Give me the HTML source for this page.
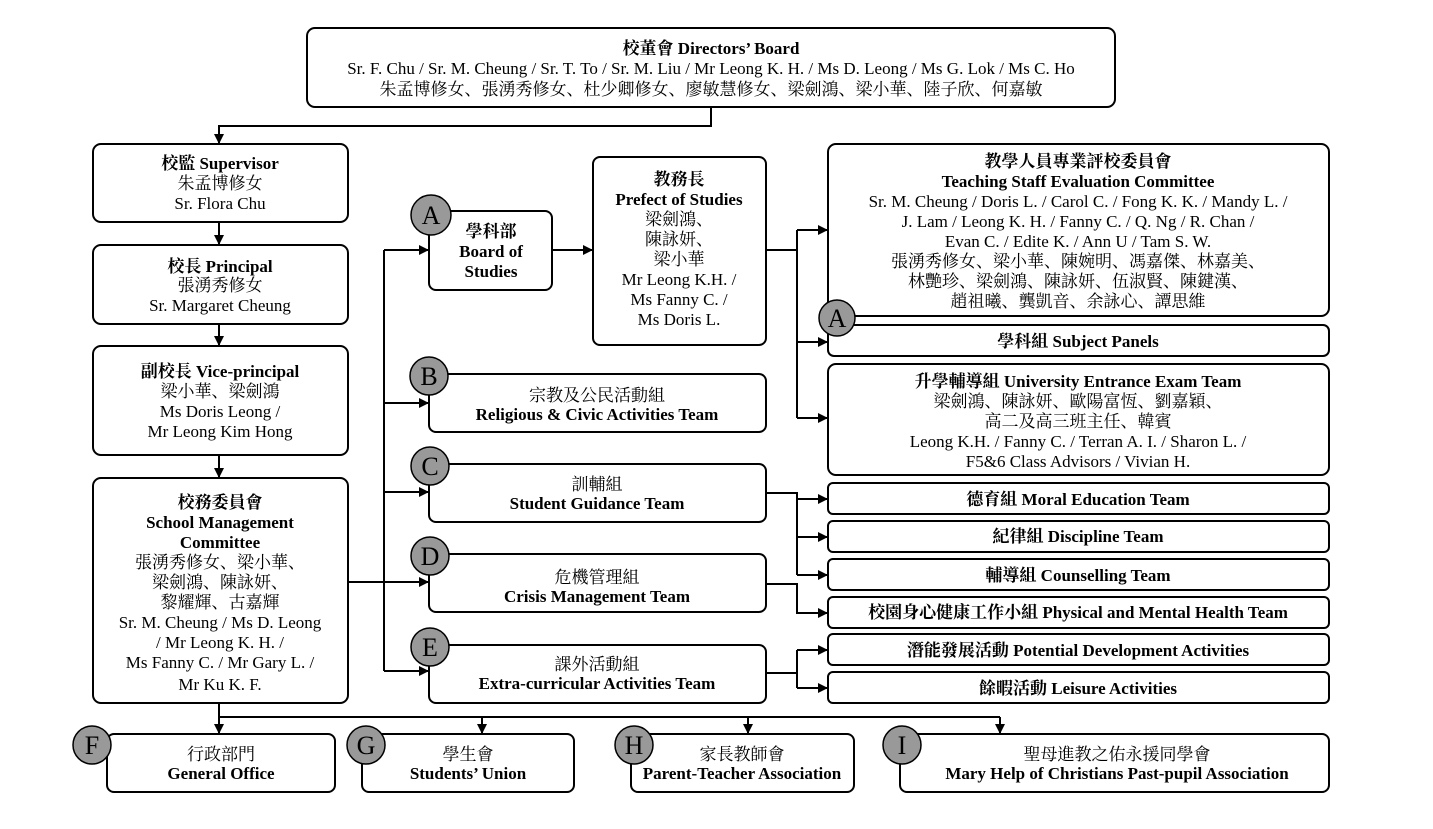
<!DOCTYPE html>
<html><head><meta charset="utf-8"><style>
html,body{margin:0;padding:0;background:#fff;}
svg{display:block;}
text{font-family:"Liberation Serif","Noto Serif CJK SC",serif;font-size:17px;fill:#000;text-anchor:middle;}
.b{font-weight:bold;}
.c{font-size:26px;}
rect.n{fill:#fff;stroke:#000;stroke-width:2;}
circle{fill:#999;stroke:#000;stroke-width:1.5;}
line,polyline{stroke:#000;stroke-width:2;fill:none;}
</style></head><body>
<svg width="1433" height="829" viewBox="0 0 1433 829" xmlns="http://www.w3.org/2000/svg">
<defs><marker id="a" markerWidth="10" markerHeight="10" refX="9" refY="5" orient="auto" markerUnits="userSpaceOnUse"><path d="M0,0 L10,5 L0,10 z" fill="#000"/></marker></defs>

<polyline points="711,107 711,126 219,126 219,143" marker-end="url(#a)"/>
<line x1="219" y1="222" x2="219" y2="244" marker-end="url(#a)"/>
<line x1="219" y1="324" x2="219" y2="345" marker-end="url(#a)"/>
<line x1="219" y1="455" x2="219" y2="477" marker-end="url(#a)"/>
<line x1="348" y1="582" x2="384" y2="582"/>
<line x1="384" y1="250" x2="384" y2="671"/>
<line x1="384" y1="250" x2="428" y2="250" marker-end="url(#a)"/>
<line x1="384" y1="403" x2="428" y2="403" marker-end="url(#a)"/>
<line x1="384" y1="492" x2="428" y2="492" marker-end="url(#a)"/>
<line x1="384" y1="582" x2="428" y2="582" marker-end="url(#a)"/>
<line x1="384" y1="671" x2="428" y2="671" marker-end="url(#a)"/>
<line x1="552" y1="250" x2="592" y2="250" marker-end="url(#a)"/>
<line x1="766" y1="250" x2="797" y2="250"/>
<line x1="797" y1="230" x2="797" y2="418"/>
<line x1="797" y1="230" x2="827" y2="230" marker-end="url(#a)"/>
<line x1="797" y1="342" x2="827" y2="342" marker-end="url(#a)"/>
<line x1="797" y1="418" x2="827" y2="418" marker-end="url(#a)"/>
<polyline points="766,493 797,493 797,575"/>
<line x1="797" y1="499" x2="827" y2="499" marker-end="url(#a)"/>
<line x1="797" y1="537" x2="827" y2="537" marker-end="url(#a)"/>
<line x1="797" y1="575" x2="827" y2="575" marker-end="url(#a)"/>
<polyline points="766,584 797,584 797,613 827,613" marker-end="url(#a)"/>
<line x1="766" y1="673" x2="797" y2="673"/>
<line x1="797" y1="650" x2="797" y2="688"/>
<line x1="797" y1="650" x2="827" y2="650" marker-end="url(#a)"/>
<line x1="797" y1="688" x2="827" y2="688" marker-end="url(#a)"/>
<line x1="219" y1="703" x2="219" y2="733" marker-end="url(#a)"/>
<line x1="219" y1="717" x2="1000" y2="717"/>
<line x1="482" y1="717" x2="482" y2="733" marker-end="url(#a)"/>
<line x1="748" y1="717" x2="748" y2="733" marker-end="url(#a)"/>
<line x1="1000" y1="717" x2="1000" y2="733" marker-end="url(#a)"/>

<rect class="n" x="307" y="28" width="808" height="79" rx="8"/>
<text class="b" x="711" y="54">校董會 Directors’ Board</text>
<text x="711" y="74">Sr. F. Chu / Sr. M. Cheung / Sr. T. To / Sr. M. Liu / Mr Leong K. H. / Ms D. Leong / Ms G. Lok / Ms C. Ho</text>
<text x="711" y="95">朱孟博修女、張湧秀修女、杜少卿修女、廖敏慧修女、梁劍鴻、梁小華、陸子欣、何嘉敏</text>

<rect class="n" x="93" y="144" width="255" height="78" rx="8"/>
<text class="b" x="220" y="169">校監 Supervisor</text>
<text x="220" y="189">朱孟博修女</text>
<text x="220" y="209">Sr. Flora Chu</text>

<rect class="n" x="93" y="245" width="255" height="79" rx="8"/>
<text class="b" x="220" y="272">校長 Principal</text>
<text x="220" y="291">張湧秀修女</text>
<text x="220" y="311">Sr.  Margaret Cheung</text>

<rect class="n" x="93" y="346" width="255" height="109" rx="8"/>
<text class="b" x="220" y="377">副校長 Vice-principal</text>
<text x="220" y="397">梁小華、梁劍鴻</text>
<text x="220" y="417">Ms Doris Leong /</text>
<text x="220" y="437">Mr Leong Kim Hong</text>

<rect class="n" x="93" y="478" width="255" height="225" rx="8"/>
<text class="b" x="220" y="508">校務委員會</text>
<text class="b" x="220" y="528">School Management</text>
<text class="b" x="220" y="548">Committee</text>
<text x="220" y="568">張湧秀修女、梁小華、</text>
<text x="220" y="588">梁劍鴻、陳詠妍、</text>
<text x="220" y="608">黎耀輝、古嘉輝</text>
<text x="220" y="628">Sr. M. Cheung / Ms D. Leong</text>
<text x="220" y="648">/ Mr Leong K. H. /</text>
<text x="220" y="668">Ms Fanny C. / Mr Gary L. /</text>
<text x="220" y="690">Mr Ku K. F.</text>

<rect class="n" x="429" y="211" width="123" height="79" rx="7"/>
<text class="b" x="491" y="237">學科部</text>
<text class="b" x="491" y="257">Board of</text>
<text class="b" x="491" y="277">Studies</text>

<rect class="n" x="593" y="157" width="173" height="188" rx="7"/>
<text class="b" x="679" y="185">教務長</text>
<text class="b" x="679" y="205">Prefect of Studies</text>
<text x="679" y="225">梁劍鴻、</text>
<text x="679" y="245">陳詠妍、</text>
<text x="679" y="265">梁小華</text>
<text x="679" y="285">Mr Leong K.H. /</text>
<text x="679" y="305">Ms Fanny C. /</text>
<text x="679" y="325">Ms Doris L.</text>

<rect class="n" x="828" y="144" width="501" height="172" rx="8"/>
<text class="b" x="1078" y="167">教學人員專業評校委員會</text>
<text class="b" x="1078" y="187">Teaching Staff Evaluation Committee</text>
<text x="1078" y="207">Sr. M. Cheung / Doris L. / Carol C. / Fong K. K. / Mandy L. /</text>
<text x="1078" y="227">J. Lam / Leong K. H. / Fanny C. / Q. Ng / R. Chan /</text>
<text x="1078" y="247">Evan C. / Edite K. / Ann U / Tam S. W.</text>
<text x="1078" y="267">張湧秀修女、梁小華、陳婉明、馮嘉傑、林嘉美、</text>
<text x="1078" y="287">林艷珍、梁劍鴻、陳詠妍、伍淑賢、陳鍵漢、</text>
<text x="1078" y="307">趙祖曦、龔凱音、余詠心、譚思維</text>

<rect class="n" x="828" y="325" width="501" height="31" rx="6"/>
<text class="b" x="1078" y="347">學科組 Subject Panels</text>

<rect class="n" x="828" y="364" width="501" height="111" rx="8"/>
<text class="b" x="1078" y="387">升學輔導組 University Entrance Exam Team</text>
<text x="1078" y="407">梁劍鴻、陳詠妍、歐陽富恆、劉嘉穎、</text>
<text x="1078" y="427">高二及高三班主任、韓賓</text>
<text x="1078" y="447">Leong K.H. / Fanny C. / Terran A. I. / Sharon L. /</text>
<text x="1078" y="467">F5&amp;6 Class Advisors / Vivian H.</text>

<rect class="n" x="429" y="374" width="337" height="58" rx="7"/>
<text x="597" y="401">宗教及公民活動組</text>
<text class="b" x="597" y="420">Religious &amp; Civic Activities Team</text>
<rect class="n" x="429" y="464" width="337" height="58" rx="7"/>
<text x="597" y="490">訓輔組</text>
<text class="b" x="597" y="509">Student Guidance Team</text>
<rect class="n" x="429" y="554" width="337" height="58" rx="7"/>
<text x="597" y="583">危機管理組</text>
<text class="b" x="597" y="602">Crisis Management Team</text>
<rect class="n" x="429" y="645" width="337" height="58" rx="7"/>
<text x="597" y="670">課外活動組</text>
<text class="b" x="597" y="689">Extra-curricular Activities Team</text>

<rect class="n" x="828" y="483" width="501" height="31" rx="5"/>
<text class="b" x="1078" y="505">德育組 Moral Education Team</text>
<rect class="n" x="828" y="521" width="501" height="31" rx="5"/>
<text class="b" x="1078" y="542">紀律組 Discipline Team</text>
<rect class="n" x="828" y="559" width="501" height="31" rx="5"/>
<text class="b" x="1078" y="581">輔導組 Counselling Team</text>
<rect class="n" x="828" y="597" width="501" height="31" rx="5"/>
<text class="b" x="1078" y="618">校園身心健康工作小組 Physical and Mental Health Team</text>
<rect class="n" x="828" y="634" width="501" height="31" rx="5"/>
<text class="b" x="1078" y="656">潛能發展活動 Potential Development Activities</text>
<rect class="n" x="828" y="672" width="501" height="31" rx="5"/>
<text class="b" x="1078" y="694">餘暇活動 Leisure Activities</text>

<rect class="n" x="107" y="734" width="228" height="58" rx="7"/>
<text x="221" y="760">行政部門</text>
<text class="b" x="221" y="779">General Office</text>
<rect class="n" x="362" y="734" width="212" height="58" rx="7"/>
<text x="468" y="760">學生會</text>
<text class="b" x="468" y="779">Students’ Union</text>
<rect class="n" x="631" y="734" width="223" height="58" rx="7"/>
<text x="742" y="760">家長教師會</text>
<text class="b" x="742" y="779">Parent-Teacher Association</text>
<rect class="n" x="900" y="734" width="429" height="58" rx="7"/>
<text x="1117" y="760">聖母進教之佑永援同學會</text>
<text class="b" x="1117" y="779">Mary Help of Christians Past-pupil Association</text>

<circle cx="431" cy="215" r="20"/><text class="c" x="431" y="224">A</text>
<circle cx="837" cy="318" r="18"/><text class="c" x="837" y="327">A</text>
<circle cx="429" cy="376" r="19"/><text class="c" x="429" y="385">B</text>
<circle cx="430" cy="466" r="19"/><text class="c" x="430" y="475">C</text>
<circle cx="430" cy="556" r="19"/><text class="c" x="430" y="565">D</text>
<circle cx="430" cy="647" r="19"/><text class="c" x="430" y="656">E</text>
<circle cx="92" cy="745" r="19"/><text class="c" x="92" y="754">F</text>
<circle cx="366" cy="745" r="19"/><text class="c" x="366" y="754">G</text>
<circle cx="634" cy="745" r="19"/><text class="c" x="634" y="754">H</text>
<circle cx="902" cy="745" r="19"/><text class="c" x="902" y="754">I</text>
</svg>
</body></html>
